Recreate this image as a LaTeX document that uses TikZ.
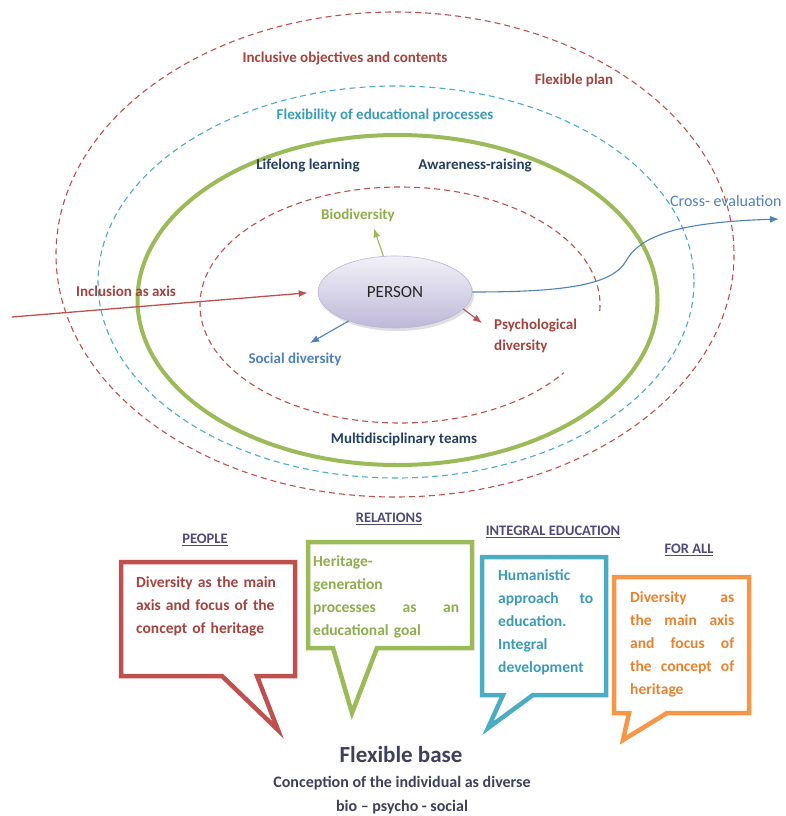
\documentclass[tikz,border=0pt]{standalone}
\usepackage{fontspec}
\setmainfont{Carlito}
\usetikzlibrary{positioning,arrows.meta,shapes.geometric,shadows}

\definecolor{redc}{HTML}{C0504D}
\definecolor{redt}{HTML}{A5433F}
\definecolor{cyanc}{HTML}{4BACC6}
\definecolor{cyant}{HTML}{3A9CB8}
\definecolor{greenc}{HTML}{9BBB59}
\definecolor{greent}{HTML}{8DAE4C}
\definecolor{bluec}{HTML}{4F81BD}
\definecolor{navyt}{HTML}{243F60}
\definecolor{orangec}{HTML}{F79646}
\definecolor{oranget}{HTML}{E9822F}
\definecolor{headc}{HTML}{4F4A7A}
\definecolor{slatet}{HTML}{3F3F5F}
\definecolor{lavender}{HTML}{A9A1CC}

\tikzset{
  ring/.style={dash pattern=on 6pt off 4pt, line width=1.1pt},
  lbl/.style={font=\bfseries\fontsize{15}{21}\selectfont, inner sep=1pt},
  head/.style={font=\bfseries\fontsize{14.5}{17}\selectfont, color=headc, inner sep=1pt},
  bubble/.style={line width=4.5pt, line join=miter},
  btext/.style={font=\bfseries\fontsize{15.5}{23}\selectfont, anchor=north west,
    inner sep=0pt, align=left},
  pointer/.style={line width=1.3pt, -{Latex[length=9pt,width=7pt]}}
}

\begin{document}
\begin{tikzpicture}[x=1pt,y=-1pt]
  \useasboundingbox (0,0) rectangle (785,816);

  % the rings
  \draw[ring, redc] (395,254.5) ellipse [x radius=339, y radius=242.5];
  \draw[ring, cyanc] (396,282) ellipse [x radius=298, y radius=196];
  \draw[greenc, line width=4pt] (397.5,300) ellipse [x radius=260, y radius=165];
  \draw[ring, redc] ([shift={(3:200 and 118)}]400,305)
     arc [start angle=3, end angle=-325, x radius=200, y radius=118];

  % ring labels
  \node[lbl, redt] (objectives) at (345,58) {Inclusive objectives and contents};
  \node[lbl, redt] (plan) at (574,80) {Flexible plan};
  \node[lbl, cyant] (flexibility) at (385,115) {Flexibility of educational processes};
  \node[lbl, navyt] (lifelong) at (308,166) {Lifelong learning};
  \node[lbl, navyt] (awareness) at (475,166) {Awareness-raising};
  \node[lbl, greent] (bio) at (358,215) {Biodiversity};
  \node[lbl, bluec, font=\fontsize{16}{18}\selectfont, anchor=west] (cross) at (669,201) {Cross- evaluation};
  \node[lbl, redt] (inclusion) at (126,291) {Inclusion as axis};
  \node[lbl, redt, anchor=west, align=left] (psych) at (493,336) {Psychological\\diversity};
  \node[lbl, bluec] (social) at (295,359) {Social diversity};
  \node[lbl, navyt] (teams) at (404,439) {Multidisciplinary teams};

  % centre
  \node[ellipse, draw=lavender!80, line width=0.6pt, minimum width=154pt, minimum height=72pt,
        top color=lavender!15, bottom color=lavender!75,
        drop shadow={shadow xshift=2pt, shadow yshift=-3pt, opacity=0.25},
        font=\fontsize{17}{19}\selectfont, text=black!85] (person) at (395,292) {PERSON};

  \coordinate (inc) at (12,317);
  \coordinate (psy) at (482,323);
  \coordinate (soc) at (310,343);
  \coordinate (eval) at (779,219);

  \path[pointer]
    (inc) edge[redc, shorten >=10pt] (person.west)
    (person.108) edge[greenc, line width=1.1pt, shorten >=6pt] ([xshift=14pt]bio.south)
    (person.-14) edge[redc, line width=1.1pt] (psy)
    (person.-148) edge[bluec, line width=1.1pt] (soc);
  \draw[pointer, bluec, line width=1.1pt] (person.east)
    .. controls (560,292) and (612,286) .. (626,261)
    .. controls (642,232) and (690,222) .. (eval);

  % speech bubbles
  \draw[bubble, redc] (121,562) -- (295,562) -- (295,676) -- (257,676)
    -- (278,730) -- (222,676) -- (121,676) -- cycle;
  \draw[bubble, greenc] (308,542) -- (472,542) -- (472,648) -- (377,648)
    -- (352,713) -- (333,648) -- (308,648) -- cycle;
  \draw[bubble, cyanc] (482,557) -- (606,557) -- (606,695) -- (533,695)
    -- (488,728) -- (503,695) -- (482,695) -- cycle;
  \draw[bubble, orangec] (614,577) -- (749,577) -- (749,713) -- (667,713)
    -- (623,740) -- (629,713) -- (614,713) -- cycle;

  \node[head] (people) at (205,540) {\underline{PEOPLE}};
  \node[head] (relations) at (389,519) {\underline{RELATIONS}};
  \node[head] (integral) at (553,532) {\underline{INTEGRAL EDUCATION}};
  \node[head] (forall) at (689,550) {\underline{FOR ALL}};

  \node[btext, redt, text width=150pt] (peopletxt) at (136,576)
    {Diversity as the main\\axis and focus of the\\concept of heritage};
  \node[btext, greent, text width=146pt] (relationstxt) at (313,555)
    {Heritage-\\generation\\processes\hfill as\hfill an\\educational goal};
  \node[btext, cyant, text width=95pt] (integraltxt) at (498,569)
    {Humanistic\\approach\hfill to\\education.\\Integral\\development};
  \node[btext, oranget, text width=104pt] (foralltxt) at (630,591)
    {Diversity\hfill as\\the\hfill main\hfill axis\\and\hfill focus\hfill of\\the\hfill concept\hfill of\\heritage};

  % base
  \node[font=\bfseries\fontsize{23}{25}\selectfont, text=slatet] (base) at (401,755) {Flexible base};
  \node[font=\bfseries\fontsize{16}{18}\selectfont, text=slatet] (conception) at (402,783)
    {Conception of the individual as diverse};
  \node[font=\bfseries\fontsize{16}{18}\selectfont, text=slatet] (biopsy) at (402,807)
    {bio -- psycho - social};
\end{tikzpicture}
\end{document}
